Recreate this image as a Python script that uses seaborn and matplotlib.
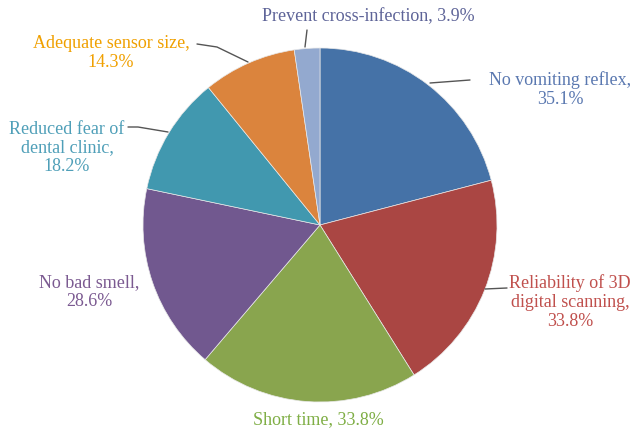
import matplotlib
matplotlib.use("Agg")
import matplotlib.pyplot as plt
import seaborn as sns

sns.set_theme(style="white")
plt.rcParams['font.family'] = ['Liberation Serif', 'DejaVu Serif']

categories = ["No vomiting reflex", "Reliability of 3D\ndigital scanning", "Short time",
              "No bad smell", "Reduced fear of\ndental clinic", "Adequate sensor size",
              "Prevent cross-infection"]
values = [35.1, 33.8, 33.8, 28.6, 18.2, 14.3, 3.9]
label_texts = ["No vomiting reflex,\n35.1%", "Reliability of 3D\ndigital scanning,\n33.8%",
               "Short time, 33.8%", "No bad smell,\n28.6%", "Reduced fear of\ndental clinic,\n18.2%",
               "Adequate sensor size,\n14.3%", "Prevent cross-infection, 3.9%"]

slice_colors = ["#4572A7", "#AA4643", "#89A54E", "#71588F", "#4198AF", "#DB843D", "#93A9CF"]
text_colors = ["#5A78B0", "#C0504D", "#7FAE45", "#7B5A91", "#4F9FB8", "#F0A000", "#5E6498"]

W, H = 637, 432
fig = plt.figure(figsize=(W / 100, H / 100), dpi=100)
ax = fig.add_axes([0, 0, 1, 1])
ax.set_xlim(0, W)
ax.set_ylim(H, 0)
ax.set_aspect('equal')
ax.axis('off')

cx, cy, r = 320, 225, 177
# y axis inverted -> counterclock=True appears clockwise on screen
ax.pie(values, colors=slice_colors, startangle=-90, counterclock=True,
       center=(cx, cy), radius=r, frame=True,
       wedgeprops=dict(edgecolor="#e8e8e8", linewidth=0.5))
ax.set_xlim(0, W)
ax.set_ylim(H, 0)
ax.axis('off')

# label positions (pixel coords from top-left)
label_pos = [(560, 90), (570, 302), (318, 420), (89, 292), (67, 148), (111, 53), (368, 17)]
for txt, col, (x, y) in zip(label_texts, text_colors, label_pos):
    ax.text(x, y, txt, color=col, fontsize=13, ha='center', va='center',
            linespacing=1.15)

# leader lines
leaders = [
    [(430, 83), (470, 80)],
    [(485, 289), (507, 288)],
    [(197, 44), (217, 47), (248, 62)],
    [(128, 127), (138, 127), (168, 132)],
    [(307, 30), (305, 47)],
]
for pts in leaders:
    xs, ys = zip(*pts)
    ax.plot(xs, ys, color="#555555", lw=1.0)

fig.savefig("out.png", dpi=100)
